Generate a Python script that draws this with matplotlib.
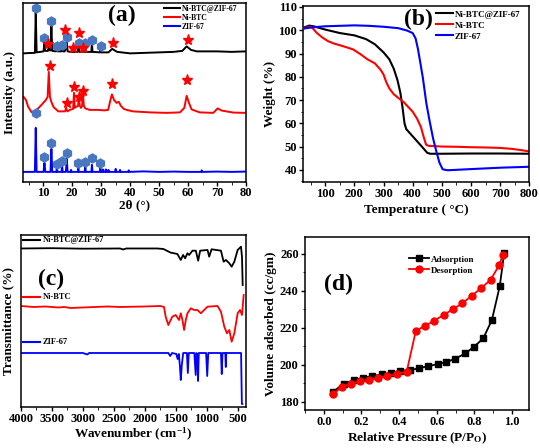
import matplotlib
matplotlib.use("Agg")
import matplotlib.pyplot as plt
from matplotlib.ticker import MultipleLocator

plt.rcParams["font.family"] = ["Liberation Serif", "DejaVu Serif"]
plt.rcParams["font.weight"] = "bold"
plt.rcParams["axes.labelweight"] = "bold"
plt.rcParams["mathtext.fontset"] = "custom"
plt.rcParams["mathtext.rm"] = "Liberation Serif:bold"
plt.rcParams["mathtext.bf"] = "Liberation Serif:bold"
plt.rcParams["mathtext.it"] = "Liberation Serif:bold"
plt.rcParams["mathtext.default"] = "bf"
plt.rcParams["axes.linewidth"] = 1.1
plt.rcParams["xtick.direction"] = "out"
plt.rcParams["ytick.direction"] = "out"
plt.rcParams["xtick.major.size"] = 3
plt.rcParams["ytick.major.size"] = 3
plt.rcParams["xtick.minor.size"] = 1.8
plt.rcParams["ytick.minor.size"] = 1.8
plt.rcParams["xtick.major.width"] = 1.0
plt.rcParams["ytick.major.width"] = 1.0
plt.rcParams["xtick.labelsize"] = 9
plt.rcParams["ytick.labelsize"] = 9

# =========================
# (a) XRD patterns, (2theta, offset intensity)
# =========================
xrd_composite = [
    (3.1, 128.5), (5, 128.8), (7.1, 129), (7.4, 170), (7.7, 129.5), (9, 130), (10.1, 130.5),
    (10.4, 139), (10.7, 131), (11.6, 131), (11.9, 135), (12.2, 131.5), (12.5, 131.5),
    (12.8, 157), (13.1, 131), (14.4, 130.5), (14.7, 134), (15.0, 130.5), (16.2, 130.5),
    (16.5, 133.5), (16.8, 130.5), (17.4, 130.5), (17.7, 133), (18.1, 140), (18.4, 130.5),
    (19.5, 130), (20.5, 130), (20.7, 134), (20.9, 130), (21.9, 130), (22.2, 136), (22.5, 130),
    (23.4, 130), (23.7, 134), (24.0, 130), (24.3, 130), (24.5, 135), (24.7, 130), (26.6, 130),
    (26.8, 139), (27.0, 130), (29.5, 129.5), (29.7, 133), (29.9, 129.5), (32.5, 129.5),
    (33.8, 133), (35.5, 130), (40, 128.5), (45, 129), (50, 129.5), (55, 130), (58, 131),
    (59.5, 135.5), (61, 132), (63, 130.5), (70, 130.5), (75, 130), (80, 130.5),
]
xrd_nibtc = [
    (3.2, 85), (4.0, 82), (4.8, 75), (6.0, 69.5), (7.7, 72), (9.4, 77), (10.9, 82), (11.5, 85),
    (11.9, 110), (12.3, 85), (12.8, 80), (13.5, 75), (15.2, 70.5), (17.5, 70.5), (17.9, 74),
    (18.3, 70.5), (19.2, 72), (20.3, 73), (20.6, 89), (20.9, 74), (21.3, 75), (22.0, 76),
    (22.3, 85), (22.6, 76), (23.0, 74), (23.4, 76), (23.7, 88), (24.0, 76), (24.5, 73.5),
    (26, 72), (29, 72), (31, 71.5), (32.4, 72), (33.2, 82), (33.7, 87.5), (34.4, 82),
    (35.3, 79), (36.1, 80), (36.8, 76), (37.8, 73), (38.8, 72), (41, 70.5), (46.8, 69.5),
    (52.6, 69), (57.2, 69.5), (58.7, 74), (59.5, 86), (60.3, 79), (61.2, 72.5), (64, 69.5),
    (68.7, 69), (70.2, 73.5), (71.6, 71.3), (75.6, 69.3), (80, 69),
]
xrd_zif67 = [
    (3.1, 10), (7.1, 10), (7.4, 54), (7.7, 10), (10.1, 10), (10.4, 19), (10.7, 10),
    (12.5, 10), (12.8, 33), (13.1, 10), (14.5, 10), (14.7, 15), (14.9, 10), (16.3, 10),
    (16.5, 16.5), (16.7, 10), (17.8, 10), (18.1, 23), (18.4, 10), (19.4, 10), (19.6, 12),
    (19.8, 10), (21.9, 10), (22.1, 14), (22.3, 10), (24.3, 10), (24.5, 15), (24.7, 10),
    (26.6, 10), (26.8, 17), (27.0, 10), (29.5, 10), (29.7, 15), (29.9, 10), (30.4, 10),
    (30.6, 12.5), (30.8, 10), (31.4, 10), (31.6, 12.5), (31.8, 10), (32.3, 10), (32.5, 12),
    (32.7, 10), (34.8, 10), (35.0, 13), (35.2, 10), (36.3, 10), (36.5, 12), (36.7, 10),
    (39.3, 10), (39.5, 11.5), (39.7, 10), (44.5, 10.5), (50, 10), (55, 10.3), (60, 10),
    (64.5, 10), (64.7, 11.5), (64.9, 10), (70, 10.3), (75, 10), (80, 10.3),
]
zif_marks_x = [7.4, 10.4, 12.8, 14.7, 16.5, 18.1, 22.1, 24.5, 26.8, 29.7]
zif_marks_y = [69, 25, 39, 18, 21, 29, 19, 20, 24, 19]
comp_hex_x = [7.5, 10.2, 12.6, 14.6, 16.3, 18.1, 22.4, 24.5, 26.8, 29.9]
comp_hex_y = [174, 144, 161, 136, 137, 145, 139, 139, 142, 136]
comp_star_x = [11.8, 17.5, 20.4, 22.4, 23.6, 33.9, 59.8]
comp_star_y = [138, 152, 134, 149, 134, 139, 142]
nibtc_star_x = [12.3, 18.1, 20.6, 22.3, 23.8, 33.8, 59.5]
nibtc_star_y = [116, 79, 95, 85, 91, 98, 102]

# =========================
# (b) TGA, (temperature, weight %)
# =========================
tga_composite = [
    (30, 101.3), (45, 102.0), (60, 101.7), (100, 100.3), (150, 98.8), (200, 97.8), (240, 96.2),
    (270, 94.0), (300, 90.5), (320, 87.5), (335, 83.5), (348, 78.5), (358, 73.0), (365, 67.0),
    (372, 60.0), (378, 57.5), (390, 55.8), (410, 53.0), (430, 50.2), (450, 47.3), (460, 46.9),
    (500, 46.9), (600, 47.0), (700, 47.0), (800, 46.9),
]
tga_nibtc = [
    (30, 100.9), (45, 101.5), (55, 101.2), (70, 99.0), (90, 96.9), (110, 95.3), (130, 94.3),
    (160, 93.2), (195, 91.8), (220, 89.8), (245, 87.5), (270, 85.8), (290, 83.0), (300, 81.0),
    (310, 77.5), (320, 75.0), (335, 72.5), (350, 71.0), (370, 69.0), (385, 67.0), (400, 65.0),
    (415, 62.0), (428, 58.5), (438, 54.0), (446, 50.8), (455, 50.3), (500, 50.0), (550, 49.9),
    (600, 49.7), (650, 49.6), (700, 49.4), (740, 49.0), (770, 48.5), (800, 47.9),
]
tga_zif67 = [
    (30, 100.8), (60, 101.3), (100, 101.7), (150, 101.9), (200, 102.1), (250, 101.9),
    (300, 101.5), (350, 100.9), (380, 99.9), (400, 98.8), (410, 96.5), (418, 92.0),
    (427, 85.5), (435, 79.5), (447, 68.5), (458, 61.0), (470, 53.5), (481, 48.0), (492, 43.0),
    (503, 40.2), (520, 39.8), (600, 40.3), (700, 40.9), (800, 41.3),
]

# =========================
# (c) FTIR, (wavenumber, offset transmittance)
# =========================
ftir_composite = [
    (4000, 158.5), (3500, 158.8), (3000, 158.3), (2400, 158.5), (2350, 157.5), (2300, 158.5),
    (1800, 158.5), (1700, 158), (1620, 155.5), (1580, 154.3), (1528, 153.7), (1474, 153),
    (1419, 147), (1382, 152), (1349, 148.7), (1311, 153.7), (1284, 152), (1230, 156.3),
    (1176, 156.3), (1138, 146.3), (1106, 156.3), (987, 157), (960, 150.3), (922, 157.7),
    (770, 156.3), (727, 145.3), (689, 147), (635, 143.7), (597, 140.3), (554, 145.3),
    (500, 157), (446, 160.3), (430, 150), (419, 122),
]
ftir_nibtc = [
    (4000, 101), (3800, 100), (3600, 100.5), (3400, 99.5), (3300, 100), (3200, 99),
    (3000, 99.5), (2800, 100), (2600, 100.5), (2400, 100), (2000, 100.5), (1750, 101),
    (1690, 100), (1663, 90.3), (1620, 82), (1582, 87), (1555, 90.3), (1501, 92), (1447, 87),
    (1419, 93.7), (1392, 87), (1365, 77), (1338, 87), (1311, 93.7), (1257, 98.7), (1203, 97),
    (1149, 97), (1095, 93.7), (1041, 97), (987, 100.3), (825, 101), (770, 95.3), (716, 80.3),
    (673, 73.7), (635, 77), (597, 65.3), (554, 73.7), (500, 93.7), (462, 97), (430, 92),
    (403, 112),
]
ftir_zif67 = [
    (4000, 54), (3000, 54), (2930, 52.5), (2900, 54), (1620, 54), (1590, 51), (1560, 54),
    (1490, 53), (1470, 48), (1450, 53), (1432, 40), (1419, 27), (1402, 42), (1380, 54),
    (1320, 54), (1305, 34), (1290, 54), (1200, 54), (1178, 32), (1165, 54), (1150, 50),
    (1140, 26), (1128, 54), (1010, 54), (992, 31), (975, 54), (770, 54), (757, 33), (745, 54),
    (700, 54), (692, 40), (684, 54), (445, 54), (432, 3), (425, 3),
]

# =========================
# (d) N2 isotherm
# =========================
ads_p = [0.048, 0.106, 0.160, 0.208, 0.257, 0.308, 0.357, 0.405, 0.458, 0.505,
         0.555, 0.604, 0.651, 0.699, 0.752, 0.798, 0.847, 0.893, 0.935, 0.958]
ads_v = [185.2, 189.8, 191.6, 192.9, 193.8, 194.7, 195.6, 196.7, 197.0, 198.1,
         199.2, 200.3, 201.4, 203.3, 206.1, 209.7, 214.2, 224.2, 242.6, 260.4]
des_p = [0.048, 0.097, 0.144, 0.194, 0.241, 0.290, 0.338, 0.387, 0.440, 0.489,
         0.537, 0.586, 0.637, 0.687, 0.736, 0.785, 0.836, 0.886, 0.933, 0.950]
des_v = [184.0, 188.0, 189.8, 191.0, 191.8, 192.9, 193.9, 194.8, 196.1, 218.4,
         220.9, 223.8, 226.9, 230.1, 233.2, 237.2, 241.4, 245.9, 254.0, 259.1]

names = ["Ni-BTC@ZIF-67", "Ni-BTC", "ZIF-67"]
colors = ["#000000", "#ff0000", "#0000ff"]
hex_color = "#4a78c0"


def unzip(pairs):
    return [p[0] for p in pairs], [p[1] for p in pairs]


fig = plt.figure(figsize=(5.4, 4.48), dpi=100)

# ---- (a)
ax = fig.add_axes([0.0426, 0.594, 0.413, 0.3996])
for data, c in zip([xrd_composite, xrd_nibtc, xrd_zif67], colors):
    x, y = unzip(data)
    ax.plot(x, y, color=c, lw=1.4)
ax.plot(zif_marks_x, zif_marks_y, "h", color=hex_color, ms=6.5, ls="none")
ax.plot(comp_hex_x, comp_hex_y, "h", color=hex_color, ms=6.5, ls="none")
ax.plot(comp_star_x, comp_star_y, "*", color="red", ms=8, ls="none")
ax.plot(nibtc_star_x, nibtc_star_y, "*", color="red", ms=8, ls="none")
handles = [plt.Line2D([], [], color=c, lw=1.5) for c in colors]
ax.legend(handles, names, loc="upper left", bbox_to_anchor=(0.63, 0.99), frameon=False,
          fontsize=5.5, handlelength=2.2, handletextpad=0.2, labelspacing=0.15, borderpad=0,
          borderaxespad=0)
ax.set_xlim(3, 80)
ax.set_ylim(0, 179)
ax.set_yticks([])
ax.xaxis.set_major_locator(MultipleLocator(10))
ax.xaxis.set_minor_locator(MultipleLocator(5))
ax.tick_params(axis="x", pad=1)
ax.set_xlabel("2θ (°)", fontsize=9.5, labelpad=0)
ax.set_ylabel("Intensity (a.u.)", fontsize=9.5, labelpad=5)
ax.text(0.443, 0.93, "(a)", transform=ax.transAxes, fontsize=17, ha="center", va="center")

# ---- (b)
ax = fig.add_axes([0.5617, 0.594, 0.4185, 0.393])
for data, c, n in zip([tga_composite, tga_nibtc, tga_zif67], colors, names):
    x, y = unzip(data)
    ax.plot(x, y, color=c, lw=1.5, label=n)
ax.legend(loc="upper left", bbox_to_anchor=(0.585, 0.975), frameon=False, fontsize=6.5,
          handlelength=1.9, handletextpad=0.25, labelspacing=0.3, borderpad=0, borderaxespad=0)
ax.set_xlim(25, 800)
ax.set_ylim(34.8, 110.5)
ax.xaxis.set_minor_locator(MultipleLocator(50))
ax.yaxis.set_major_locator(MultipleLocator(10))
ax.yaxis.set_minor_locator(MultipleLocator(5))
ax.set_xticks(range(100, 801, 100))
ax.tick_params(pad=1.5)
ax.set_xlabel("Temperature ( °C)", fontsize=9.5, labelpad=3)
ax.set_ylabel("Weight (%)", fontsize=9.5, labelpad=2)
ax.text(0.509, 0.92, "(b)", transform=ax.transAxes, fontsize=17, ha="center", va="center")

# ---- (c)
ax = fig.add_axes([0.0389, 0.0915, 0.4167, 0.384])
for data, c in zip([ftir_composite, ftir_nibtc, ftir_zif67], colors):
    x, y = unzip(data)
    ax.plot(x, y, color=c, lw=1.3)
ax.set_xlim(4000, 365)
ax.set_ylim(0, 172)
ax.set_yticks([])
ax.xaxis.set_major_locator(MultipleLocator(500))
ax.xaxis.set_minor_locator(MultipleLocator(250))
ax.tick_params(axis="x", pad=1)
label_y = [167.3, 110.3, 64.7]
for n, c, ly in zip(names, colors, label_y):
    ax.plot([3973, 3692], [ly, ly], color=c, lw=1.5)
    ax.text(3648, ly, n, color="black", fontsize=6, ha="left", va="center")
ax.set_xlabel("Wavenumber (cm$^{-1}$)", fontsize=9.5, labelpad=1)
ax.set_ylabel("Transmittance (%)", fontsize=9.5, labelpad=5)
ax.text(0.132, 0.74, "(c)", transform=ax.transAxes, fontsize=17, ha="center", va="center")

# ---- (d)
ax = fig.add_axes([0.5648, 0.0848, 0.4148, 0.386])
ax.plot(ads_p, ads_v, "-s", color="black", lw=1.3, ms=4.5, label="Adsorption")
ax.plot(des_p, des_v, "-o", color="red", lw=1.3, ms=5, label="Desorption")
ax.legend(loc="upper left", bbox_to_anchor=(0.465, 0.895), frameon=False, fontsize=6.5,
          handlelength=2.2, handletextpad=0.2, labelspacing=0.3, borderpad=0, borderaxespad=0)
ax.set_xlim(-0.1, 1.09)
ax.set_ylim(175.5, 269)
ax.xaxis.set_major_locator(MultipleLocator(0.2))
ax.xaxis.set_minor_locator(MultipleLocator(0.1))
ax.yaxis.set_major_locator(MultipleLocator(20))
ax.yaxis.set_minor_locator(MultipleLocator(10))
ax.tick_params(pad=1.5)
ax.set_xlabel("Relative Pressure (P/P$_{O}$)", fontsize=9.5, labelpad=2)
ax.set_ylabel("Volume adsorbed (cc/gm)", fontsize=9.5, labelpad=2)
ax.text(0.149, 0.728, "(d)", transform=ax.transAxes, fontsize=17, ha="center", va="center")

fig.savefig("out.png", dpi=100)
